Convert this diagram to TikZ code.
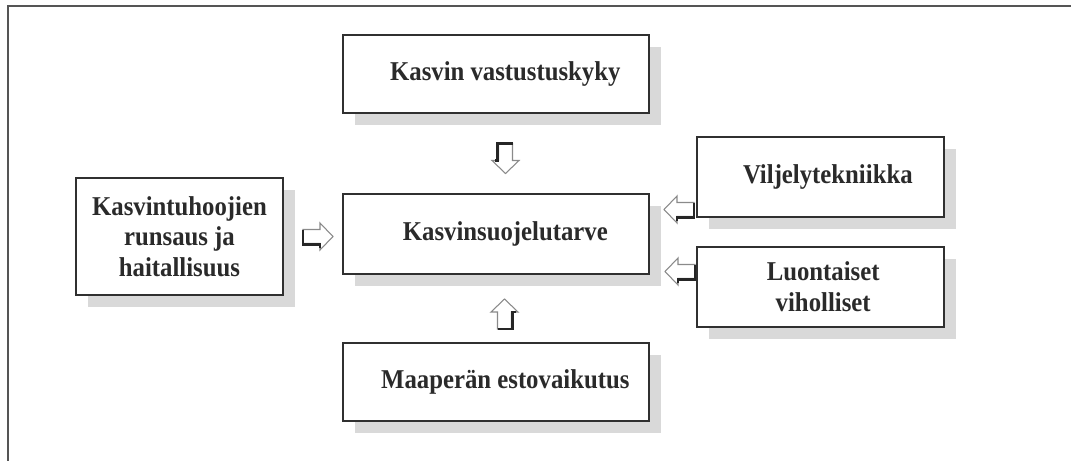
\documentclass[tikz,border=0pt]{standalone}
\usepackage{fontspec}
\setmainfont{Liberation Serif}[FakeStretch=0.91]
\usetikzlibrary{shadows}
\definecolor{boxline}{HTML}{303030}
\definecolor{shadowgray}{HTML}{D9D9D9}
\definecolor{textgray}{HTML}{2A2A2A}
\definecolor{framegray}{HTML}{555555}
\definecolor{arrowline}{HTML}{8A8A8A}
\tikzset{
  box/.style={draw=boxline, line width=1.3pt, fill=white, align=center,
    text=textgray, inner sep=0pt,
    font=\bfseries\fontsize{20.4}{23}\selectfont,
    drop shadow={shadow xshift=9pt, shadow yshift=-9pt, fill=shadowgray, opacity=1}},
  arrowbody/.style={draw=arrowline, line width=0.8pt, fill=white, line join=miter},
  arrowdark/.style={draw=black!85, line width=2pt, line join=miter},
  frameline/.style={draw=framegray, line width=2pt}
}
\newcommand{\blockarrowshape}{%
  \path[arrowbody] (-15,-7) -- (2,-7) -- (2,-13.5) -- (15,0) -- (2,13.5) -- (2,7) -- (-15,7) -- cycle;
  \path[arrowdark] (-15,-7) -- (-15,8) -- (2,8) -- (2,11);
}
\begin{document}
\begin{tikzpicture}[x=0.75pt, y=-0.75pt]
\useasboundingbox (0,0) rectangle (1071,461);
% frame
\coordinate (frameTL) at (8,6);
\coordinate (frameTR) at (1071,6);
\coordinate (frameBL) at (8,461);
\draw[frameline] (frameTR) -- (frameTL) -- (frameBL);
% boxes
\node[box, minimum width=229.5pt, minimum height=58.5pt] (resist) at (496,74) {\hspace*{14pt}Kasvin vastustuskyky};
\node[box, minimum width=229.5pt, minimum height=60pt] (need) at (496,234) {\hspace*{14pt}Kasvinsuojelutarve};
\node[box, minimum width=229.5pt, minimum height=58.5pt] (soil) at (496,382) {\hspace*{14pt}Maaperän estovaikutus};
\node[box, minimum width=155.25pt, minimum height=87.75pt] (pests) at (179.5,236.5) {Kasvintuhoojien\\runsaus ja\\haitallisuus};
\node[box, minimum width=185.25pt, minimum height=60pt] (tech) at (820.5,177) {\hspace*{11pt}Viljelytekniikka};
\node[box, minimum width=185.25pt, minimum height=60pt] (enemies) at (820.5,287) {\hspace*{4pt}Luontaiset\\\hspace*{4pt}viholliset};
% block arrows
\coordinate (aDown) at (505.5,158.5);
\coordinate (aUp) at (504.5,314);
\coordinate (aLeft) at (318,236.5);
\coordinate (aR1) at (679,209.5);
\coordinate (aR2) at (680,271.5);
\begin{scope}[shift={(aDown)}, rotate=-90]\blockarrowshape\end{scope}
\begin{scope}[shift={(aUp)}, rotate=90]\blockarrowshape\end{scope}
\begin{scope}[shift={(aLeft)}]\blockarrowshape\end{scope}
\begin{scope}[shift={(aR1)}, xscale=-1]\blockarrowshape\end{scope}
\begin{scope}[shift={(aR2)}, xscale=-1]\blockarrowshape\end{scope}
\end{tikzpicture}
\end{document}
